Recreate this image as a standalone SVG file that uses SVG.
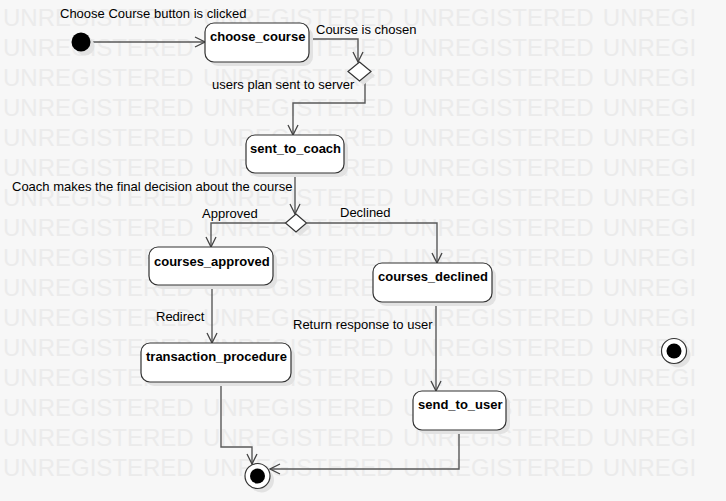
<svg xmlns="http://www.w3.org/2000/svg" xmlns:xlink="http://www.w3.org/1999/xlink" width="726" height="501" viewBox="0 0 726 501">
<style>
.wm{font-family:"Liberation Sans",Arial,sans-serif;font-size:24px;fill:#ebebeb;word-spacing:2.6px}
.lbl{font-family:"Liberation Sans",Arial,sans-serif;font-size:13px;fill:#000}
.nl{font-family:"Liberation Sans",Arial,sans-serif;font-size:13px;font-weight:bold;fill:#000}
.box{fill:#fff;stroke:#333;stroke-width:1.2}
.shd{fill:#e2e2e2}
.edge{fill:none;stroke:#595959;stroke-width:1.4}
.dia{fill:#fff;stroke:#333;stroke-width:1.2}
</style>
<defs>
<marker id="arr" viewBox="0 0 12 12" refX="11" refY="6" markerWidth="12" markerHeight="12" markerUnits="userSpaceOnUse" orient="auto">
<path d="M1,1 L11,6 L1,11" fill="none" stroke="#444" stroke-width="1.3"/>
</marker>
<clipPath id="wmclip"><rect x="0" y="0" width="696" height="501"/></clipPath>
<text id="wm" class="wm" x="3" y="26">UNREGISTERED UNREGISTERED UNREGISTERED UNREGISTERED</text>
</defs>
<rect width="726" height="501" fill="#f7f7f7"/>
<g id="watermark" clip-path="url(#wmclip)">
<use xlink:href="#wm"/>
<use xlink:href="#wm" y="30"/>
<use xlink:href="#wm" y="60"/>
<use xlink:href="#wm" y="90"/>
<use xlink:href="#wm" y="120"/>
<use xlink:href="#wm" y="150"/>
<use xlink:href="#wm" y="180"/>
<use xlink:href="#wm" y="210"/>
<use xlink:href="#wm" y="240"/>
<use xlink:href="#wm" y="270"/>
<use xlink:href="#wm" y="300"/>
<use xlink:href="#wm" y="330"/>
<use xlink:href="#wm" y="360"/>
<use xlink:href="#wm" y="390"/>
<use xlink:href="#wm" y="420"/>
<use xlink:href="#wm" y="450"/>
</g>

<g id="connectors">
<path class="edge" d="M90,42 H205" marker-end="url(#arr)"/>
<path class="edge" d="M309,39 H358 V62" marker-end="url(#arr)"/>
<path class="edge" d="M365,77 V103 H293 V135" marker-end="url(#arr)"/>
<path class="edge" d="M295,173 V214" marker-end="url(#arr)"/>
<path class="edge" d="M285.5,223 H211 V247" marker-end="url(#arr)"/>
<path class="edge" d="M306.5,223 H437 V263" marker-end="url(#arr)"/>
<path class="edge" d="M212,285 V343" marker-end="url(#arr)"/>
<path class="edge" d="M436,302 V391" marker-end="url(#arr)"/>
<path class="edge" d="M221,382 V447 H252 V464" marker-end="url(#arr)"/>
<path class="edge" d="M459,430 V469 H270" marker-end="url(#arr)"/>
</g>

<g id="labels">
<text class="lbl" x="60" y="18">Choose Course button is clicked</text>
<text class="lbl" x="316" y="34">Course is chosen</text>
<text class="lbl" x="212" y="89">users plan sent to server</text>
<text class="lbl" x="12" y="191">Coach makes the final decision about the course</text>
<text class="lbl" x="202" y="218">Approved</text>
<text class="lbl" x="340" y="217">Declined</text>
<text class="lbl" x="156" y="321">Redirect</text>
<text class="lbl" x="293" y="329">Return response to user</text>
</g>

<g id="initial">
<circle class="shd" cx="85" cy="46" r="9.5"/>
<circle cx="81" cy="42" r="9.5" fill="#000"/>
</g>

<g id="choose_course">
<rect class="shd" x="209" y="27" width="104" height="39" rx="9"/>
<rect class="box" x="205" y="23" width="104" height="39" rx="9"/>
<text class="nl" x="210" y="41">choose_course</text>
</g>

<g id="decision1">
<polygon class="shd" points="363.5,66 375,75.5 363.5,85 352,75.5"/>
<polygon class="dia" points="359.5,62 371,71.5 359.5,81 348,71.5"/>
</g>

<g id="sent_to_coach">
<rect class="shd" x="250" y="139" width="98" height="38" rx="9"/>
<rect class="box" x="246" y="135" width="98" height="38" rx="9"/>
<text class="nl" x="250" y="153">sent_to_coach</text>
</g>

<g id="decision2">
<polygon class="shd" points="300,218 310.5,227 300,236 289.5,227"/>
<polygon class="dia" points="296,214 306.5,223 296,232 285.5,223"/>
</g>

<g id="courses_approved">
<rect class="shd" x="153" y="251" width="124" height="38" rx="9"/>
<rect class="box" x="149" y="247" width="124" height="38" rx="9"/>
<text class="nl" x="154" y="266">courses_approved</text>
</g>

<g id="courses_declined">
<rect class="shd" x="377" y="267" width="119" height="39" rx="9"/>
<rect class="box" x="373" y="263" width="119" height="39" rx="9"/>
<text class="nl" x="378" y="281">courses_declined</text>
</g>

<g id="transaction_procedure">
<rect class="shd" x="145" y="347" width="150" height="39" rx="9"/>
<rect class="box" x="141" y="343" width="150" height="39" rx="9"/>
<text class="nl" x="146" y="361">transaction_procedure</text>
</g>

<g id="send_to_user">
<rect class="shd" x="417" y="395" width="93" height="39" rx="9"/>
<rect class="box" x="413" y="391" width="93" height="39" rx="9"/>
<text class="nl" x="418" y="409">send_to_user</text>
</g>

<g id="final1">
<circle class="shd" cx="261.5" cy="480" r="12.5"/>
<circle cx="257.5" cy="476" r="12.5" fill="#fff" stroke="#333" stroke-width="1.2"/>
<circle cx="257.5" cy="476" r="7.5" fill="#000"/>
</g>

<g id="final2">
<circle class="shd" cx="678" cy="355" r="12.5"/>
<circle cx="674" cy="351" r="12.5" fill="#fff" stroke="#333" stroke-width="1.2"/>
<circle cx="674" cy="351" r="7.5" fill="#000"/>
</g>
</svg>
